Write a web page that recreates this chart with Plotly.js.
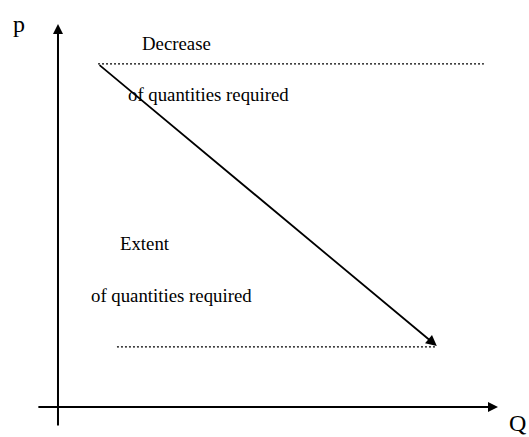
<!DOCTYPE html>
<html>
<head>
<meta charset="utf-8">
<script src="https://cdn.plot.ly/plotly-3.0.1.min.js"></script>
<style>html,body{margin:0;padding:0;background:#fff;}#chart{width:529px;height:437px;}</style>
</head>
<body>
<div id="chart"></div>
<script>
// Axis extents (Q = quantity, p = price), in diagram units
const axisQ = [-0.48, 10.0];      // horizontal axis: tail, arrow tip
const axisP = [-0.52, 10.0];      // vertical axis: tail, arrow tip

// Demand movement arrow (start -> end)
const moveQ = [0.91, 8.61];
const moveP = [8.96, 1.59];

// Dotted guide lines
const upperQ = [0.91, 9.68];
const upperP = [8.96, 8.96];
const lowerQ = [1.34, 8.57];
const lowerP = [1.57, 1.57];

// Text labels
const labelText = ["Decrease", "of quantities required", "Extent", "of quantities required"];
const labelQ = [2.70, 3.41, 1.98, 2.57];
const labelP = [9.48, 8.17, 4.26, 2.92];

const axisNames = ["p", "Q"];
const axisNameQ = [-0.886, 10.2];
const axisNameP = [10.0, -0.43];

const serif = "Liberation Serif, Times New Roman, serif";

const traces = [
  {x: upperQ, y: upperP, mode: "lines", line: {color: "#000", width: 1.2, dash: "2px,2px"}, hoverinfo: "skip"},
  {x: lowerQ, y: lowerP, mode: "lines", line: {color: "#000", width: 1.2, dash: "2px,2px"}, hoverinfo: "skip"}
];

const annotations = [];
// axes with arrowheads
annotations.push({x: 0, y: axisP[1], ax: 0, ay: axisP[0], xref: "x", yref: "y", axref: "x", ayref: "y",
  text: "", showarrow: true, arrowhead: 2, arrowsize: 1, arrowwidth: 2, arrowcolor: "#000"});
annotations.push({x: axisQ[1], y: 0, ax: axisQ[0], ay: 0, xref: "x", yref: "y", axref: "x", ayref: "y",
  text: "", showarrow: true, arrowhead: 2, arrowsize: 1, arrowwidth: 2, arrowcolor: "#000"});
// movement arrow
annotations.push({x: moveQ[1], y: moveP[1], ax: moveQ[0], ay: moveP[0], xref: "x", yref: "y", axref: "x", ayref: "y",
  text: "", showarrow: true, arrowhead: 2, arrowsize: 1.2, arrowwidth: 1.8, arrowcolor: "#000"});

labelText.forEach((t, i) => {
  annotations.push({x: labelQ[i], y: labelP[i], xref: "x", yref: "y", text: t, showarrow: false,
    xanchor: "center", yanchor: "middle", font: {family: serif, size: 18.8, color: "#000"}});
});
annotations.push({x: axisNameQ[0], y: axisNameP[0], xref: "x", yref: "y", text: axisNames[0], showarrow: false,
  xanchor: "center", yanchor: "middle", font: {family: serif, size: 24, color: "#000"}});
annotations.push({x: axisNameQ[1], y: axisNameP[1], xref: "x", yref: "y", text: axisNames[1], showarrow: false,
  xanchor: "left", yanchor: "middle", font: {family: serif, size: 24, color: "#000"}});

const layout = {
  width: 529, height: 437,
  margin: {l: 0, r: 0, t: 0, b: 0, pad: 0},
  paper_bgcolor: "#fff", plot_bgcolor: "#fff",
  showlegend: false,
  xaxis: {range: [-1.318, 10.705], visible: false, fixedrange: true},
  yaxis: {range: [-0.783, 10.627], visible: false, fixedrange: true},
  annotations: annotations
};

Plotly.newPlot("chart", traces, layout, {displayModeBar: false, staticPlot: true});
</script>
</body>
</html>
